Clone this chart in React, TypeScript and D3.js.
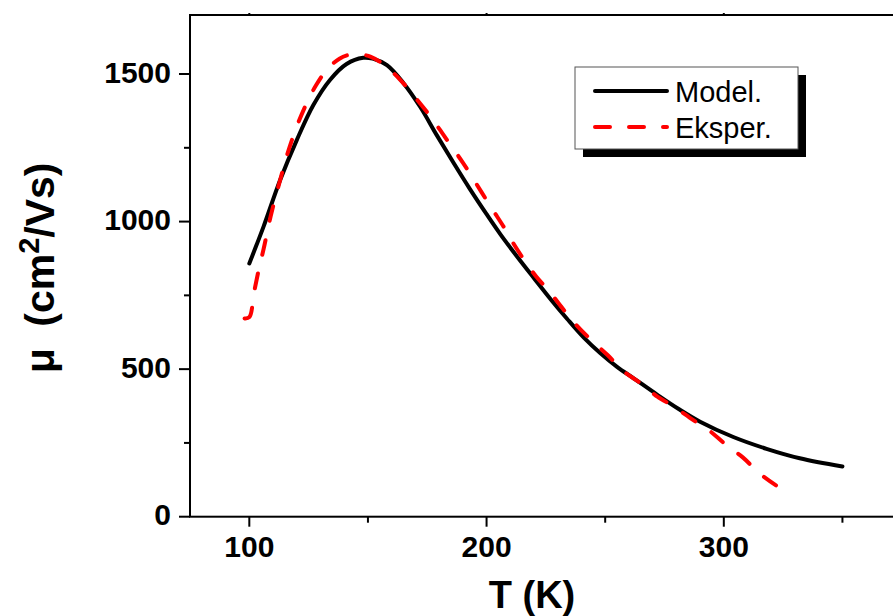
import React, { useLayoutEffect, useRef, useState } from "react";
import * as d3 from "d3";

// Model curve (black solid)
const T_MODEL = [100, 106, 113, 120, 127, 134, 141, 148, 152, 158, 165, 172, 179, 186, 193, 200, 206, 213, 220, 227, 234, 241, 248, 255, 262, 272, 281, 290, 304, 318, 332, 350];
const MU_MODEL = [858, 983, 1141, 1276, 1395, 1480, 1534, 1555, 1552, 1530, 1469, 1389, 1293, 1200, 1110, 1025, 955, 880, 808, 737, 670, 607, 554, 508, 469, 413, 365, 322, 270, 230, 198, 170];

// Experimental curve (red dashed)
const T_EXP = [98, 100, 102, 104, 106, 109, 113, 116, 120, 124, 128, 133, 138, 142, 146, 151, 157, 164, 170, 175, 180, 185, 190, 194, 198, 203, 207, 211, 215, 221, 226, 232, 237, 244, 251, 258, 265, 272, 279, 287, 294, 301, 308, 315, 322];
const MU_EXP = [672, 676, 760, 838, 906, 1018, 1141, 1228, 1322, 1398, 1460, 1518, 1552, 1565, 1567, 1559, 1530, 1477, 1420, 1370, 1315, 1257, 1200, 1150, 1098, 1035, 985, 930, 880, 813, 768, 706, 657, 599, 548, 491, 452, 407, 373, 328, 291, 243, 201, 147, 106];

const X_TICKS = [100, 200, 300];
const X_MINOR = [150, 250, 350];
const Y_TICKS = [0, 500, 1000, 1500];
const Y_MINOR = [250, 750, 1250];

const SERIES_NAMES = ["Model.", "Eksper."];

const FONT = "'Liberation Sans', Arial, sans-serif";

export default function App() {
  const left = 190, right = 901.75, top = 15, bottom = 516.7;
  const x = d3.scaleLinear().domain([75, 375]).range([left, right]);
  const y = d3.scaleLinear().domain([0, 1700]).range([bottom, top]);

  const line = d3
    .line<[number, number]>()
    .x((d) => x(d[0]))
    .y((d) => y(d[1]))
    .curve(d3.curveCatmullRom.alpha(0.5));

  const modelPts: [number, number][] = T_MODEL.map((t, i) => [t, MU_MODEL[i]]);
  const expPts: [number, number][] = T_EXP.map((t, i) => [t, MU_EXP[i]]);

  const expRef = useRef<SVGPathElement>(null);
  const [dash, setDash] = useState("15 19");
  useLayoutEffect(() => {
    if (expRef.current) {
      const L = expRef.current.getTotalLength();
      const n = Math.max(1, Math.round((L - 15) / 34));
      const period = (L - 15) / n;
      setDash(`15 ${period - 15}`);
    }
  }, []);

  return (
    <svg
      width={893}
      height={616}
      style={{ position: "absolute", left: 0, top: 0, background: "#fff" }}
      fontFamily={FONT}
    >
      <rect x={0} y={0} width={893} height={616} fill="#fff" />
      {/* frame */}
      <rect x={left} y={top} width={right - left} height={bottom - top} fill="none" stroke="#000" strokeWidth={2} />

      {/* x ticks */}
      {X_TICKS.map((t) => (
        <g key={"xt" + t}>
          <line x1={x(t)} x2={x(t)} y1={bottom} y2={bottom + 10} stroke="#000" strokeWidth={2} />
          <line x1={x(t)} x2={x(t)} y1={top} y2={top - 2} stroke="#000" strokeWidth={2} />
          <text x={x(t)} y={557} textAnchor="middle" fontSize={30} fontWeight="bold">
            {t}
          </text>
        </g>
      ))}
      {X_MINOR.map((t) => (
        <g key={"xm" + t}>
          <line x1={x(t)} x2={x(t)} y1={bottom} y2={bottom + 6} stroke="#000" strokeWidth={2} />
          <line x1={x(t)} x2={x(t)} y1={top} y2={top - 1} stroke="#000" strokeWidth={2} />
        </g>
      ))}

      {/* y ticks */}
      {Y_TICKS.map((v) => (
        <g key={"yt" + v}>
          <line x1={left - 11} x2={left} y1={y(v)} y2={y(v)} stroke="#000" strokeWidth={2} />
          <text x={171} y={y(v) + 8.5} textAnchor="end" fontSize={30} fontWeight="bold">
            {v}
          </text>
        </g>
      ))}
      {Y_MINOR.map((v) => (
        <line key={"ym" + v} x1={left - 6} x2={left} y1={y(v)} y2={y(v)} stroke="#000" strokeWidth={2} />
      ))}

      {/* curves */}
      <path d={line(modelPts) || ""} fill="none" stroke="#000" strokeWidth={4} strokeLinejoin="round" strokeLinecap="round" />
      <path
        ref={expRef}
        d={line(expPts) || ""}
        fill="none"
        stroke="#ff0000"
        strokeWidth={4}
        strokeDasharray={dash}
        strokeLinecap="round"
        strokeLinejoin="round"
      />

      {/* axis titles */}
      <text x={532} y={608} textAnchor="middle" fontSize={38} fontWeight="bold">
        T (K)
      </text>
      <text
        transform={`translate(54, ${(top + bottom) / 2 + 2}) rotate(-90)`}
        textAnchor="middle"
        fontSize={41}
        fontWeight="bold"
      >
        <tspan>μ</tspan>
        <tspan dx={10}> (cm</tspan>
        <tspan fontSize={29} dy={-15}>2</tspan>
        <tspan dy={15}>/Vs)</tspan>
      </text>

      {/* legend */}
      <rect x={583} y={75} width={223} height={82} fill="#000" />
      <rect x={575} y={67} width={223} height={82} fill="#fff" stroke="#555" strokeWidth={1} />
      <line x1={595} x2={667} y1={91} y2={91} stroke="#000" strokeWidth={4} strokeLinecap="round" />
      <text x={675} y={101.5} fontSize={29}>
        {SERIES_NAMES[0]}
      </text>
      <line
        x1={595}
        x2={667}
        y1={127}
        y2={127}
        stroke="#ff0000"
        strokeWidth={4}
        strokeDasharray="15 19"
        strokeLinecap="round"
      />
      <text x={675} y={137.5} fontSize={29}>
        {SERIES_NAMES[1]}
      </text>
    </svg>
  );
}
